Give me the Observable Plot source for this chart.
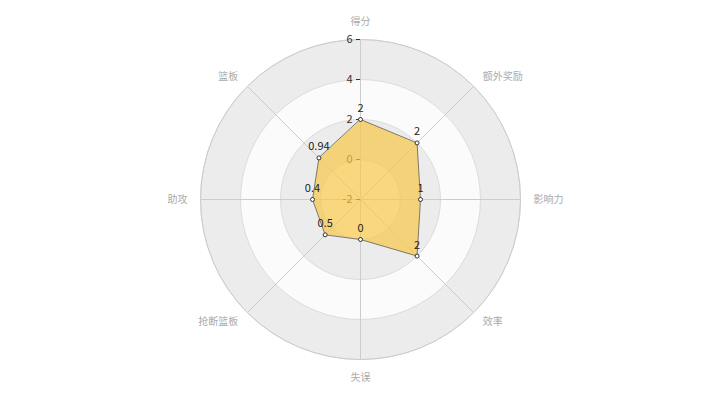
<!DOCTYPE html>
<html>
<head>
<meta charset="utf-8">
<script src="https://cdn.jsdelivr.net/npm/d3@7"></script>
<script src="https://cdn.jsdelivr.net/npm/@observablehq/plot@0.6"></script>
<style>
  html, body { margin: 0; padding: 0; background: #fff; }
  #chart svg { display: block; }
</style>
</head>
<body>
<div id="chart"></div>
<script>
// ---- data ----
const indicators = ["得分", "额外奖励", "影响力", "效率", "失误", "抢断篮板", "助攻", "篮板"];
const values = [2, 2, 1, 2, 0, 0.5, 0.4, 0.94];
const valueLabels = ["2", "2", "1", "2", "0", "0.5", "0.4", "0.94"];
const radialTicks = [6, 4, 2, 0, -2];
const radialMin = -2;
const radialMax = 6;

// ---- geometry helpers (radial value -> cartesian in value units) ----
const n = indicators.length;
const angle = i => (i / n) * 2 * Math.PI; // clockwise from top
const px = (v, i) => (v - radialMin) * Math.sin(angle(i));
const py = (v, i) => (v - radialMin) * Math.cos(angle(i));

const points = indicators.map((name, i) => ({
  name, value: values[i], label: valueLabels[i],
  x: px(values[i], i), y: py(values[i], i)
}));
const axes = indicators.map((name, i) => {
  const s = Math.sin(angle(i));
  const vertical = Math.abs(s) < 1e-6;
  const gap = vertical ? 0.9 : 0.65;
  return {
    name, i,
    x2: px(radialMax, i), y2: py(radialMax, i),
    lx: px(radialMax + gap, i), ly: py(radialMax + gap, i),
    anchor: vertical ? "middle" : (s > 0 ? "start" : "end")
  };
});
// bands: from outer to inner, alternating
const bands = radialTicks.filter(t => t > radialMin).map((t, k) => ({
  t, fill: k % 2 === 0 ? "#ececec" : "#fbfbfb"
}));

const span = radialMax - radialMin; // 8 units -> 160px
const unit = 160 / span;
const W = 720, H = 400, cx = 360, cy = 199;

const nameMark = anchor => Plot.text(axes.filter(d => d.anchor === anchor), {
  x: "lx", y: "ly", text: "name", textAnchor: anchor, fill: "#aaaaaa", fontSize: 10
});

const chart = Plot.plot({
  width: W,
  height: H,
  margin: 0,
  style: { background: "#fff", fontFamily: "'Noto Sans CJK SC', 'Noto Sans', sans-serif" },
  x: { domain: [-cx / unit, (W - cx) / unit], axis: null },
  y: { domain: [-(H - cy) / unit, cy / unit], axis: null },
  r: { type: "linear", domain: [0, span], range: [0, 160] },
  marks: [
    // split areas
    Plot.dot(bands, { x: () => 0, y: () => 0, r: d => d.t - radialMin, fill: d => d.fill, stroke: "#dcdcdc", strokeWidth: 1, sort: null }),
    // outer ring
    Plot.dot([radialMax], { x: () => 0, y: () => 0, r: d => d - radialMin, fill: "none", stroke: "#cccccc", strokeWidth: 1 }),
    // axis lines
    Plot.link(axes, { x1: () => 0, y1: () => 0, x2: "x2", y2: "y2", stroke: "#cccccc", strokeWidth: 1 }),
    // radial tick marks and labels (on the top axis)
    Plot.ruleY(radialTicks, { y: d => d - radialMin, x1: () => -0.2, x2: () => 0, stroke: "#333", strokeWidth: 1 }),
    Plot.text(radialTicks, { x: () => 0, y: d => d - radialMin, text: d => String(d), dx: -8, textAnchor: "end", fill: "#333", fontSize: 11 }),
    // polygon
    Plot.line(points, { x: "x", y: "y", curve: "linear-closed", fill: "#f7c748", fillOpacity: 0.7, stroke: "#333", strokeWidth: 0.6 }),
    // points
    Plot.dot(points, { x: "x", y: "y", r: 2, fill: "#fff", stroke: "#333", strokeWidth: 1 }),
    // value labels
    Plot.text(points, { x: "x", y: "y", text: "label", dy: -11, fill: "#222", fontSize: 11 }),
    // indicator names
    nameMark("middle"),
    nameMark("start"),
    nameMark("end")
  ]
});
document.getElementById("chart").appendChild(chart);
</script>
</body>
</html>
